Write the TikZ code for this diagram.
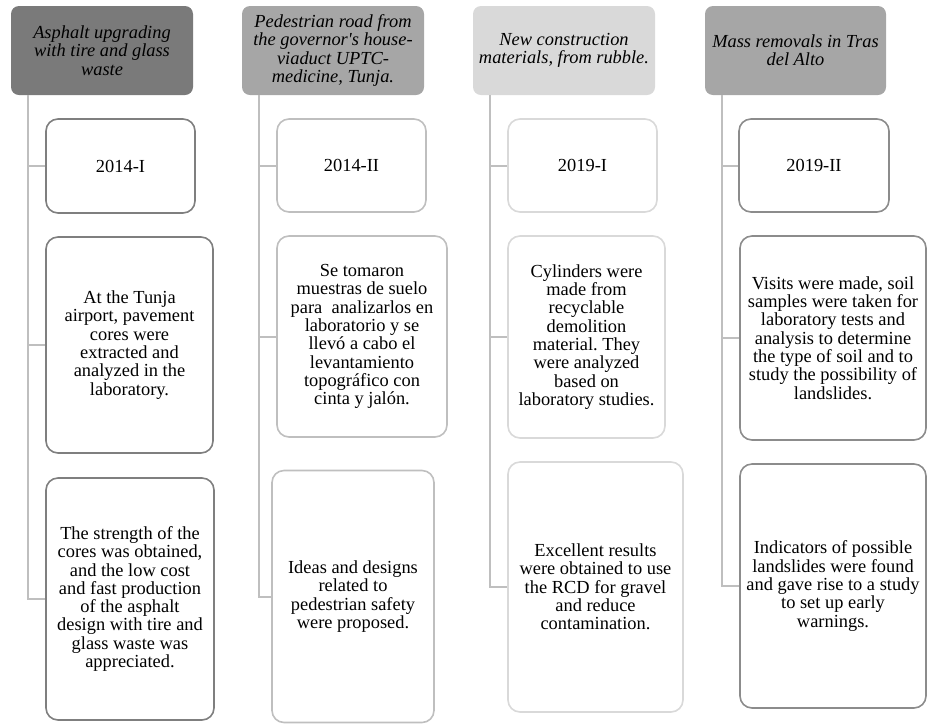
\documentclass[tikz,border=0pt]{standalone}
\usepackage{fontspec}
\setmainfont{Liberation Serif}
\frenchspacing
\definecolor{hdrA}{HTML}{7A7A7A}
\definecolor{hdrB}{HTML}{A6A6A6}
\definecolor{hdrC}{HTML}{D9D9D9}
\definecolor{hdrD}{HTML}{A6A6A6}
\definecolor{rimA}{HTML}{7F7F7F}
\definecolor{rimB}{HTML}{BFBFBF}
\definecolor{rimC}{HTML}{D9D9D9}
\definecolor{rimD}{HTML}{8C8C8C}
\definecolor{linkgray}{HTML}{BFBFBF}

\begin{document}
\begin{tikzpicture}[x=1pt,y=-1pt,
  hdr/.style={rounded corners=8pt, inner sep=0pt, align=center,
    minimum width=182pt, minimum height=89pt,
    font=\fontsize{18.4}{18.3}\selectfont\itshape},
  card/.style={draw=#1, line width=1.6pt, rounded corners=12pt, fill=white,
    inner sep=0pt, align=center, font=\fontsize{18.4}{18.3}\selectfont},
  link/.style={draw=linkgray, line width=2pt}]
\useasboundingbox (0,0) rectangle (928,724);

\node[hdr, fill=hdrA] (h1) at (102,50.5) {Asphalt upgrading\\with tire and glass\\waste};
\node[hdr, fill=hdrB] (h2) at (333,50.5) {Pedestrian road from\\the governor\textquotesingle s house-\\viaduct UPTC-\\medicine, Tunja.};
\node[hdr, fill=hdrC] (h3) at (564,50.5) {New construction\\materials, from rubble.};
\node[hdr, fill=hdrD, minimum width=181pt] (h4) at (795.5,50.5) {Mass removals in Tras\\del Alto};

\node[card=rimA, minimum width=149pt, minimum height=94pt] (y1) at (120.5,166) {2014-I};
\node[card=rimA, minimum width=167pt, minimum height=216pt] (b1) at (129.5,345) {At the Tunja\\airport, pavement\\cores were\\extracted and\\analyzed in the\\laboratory.};
\node[card=rimA, minimum width=168pt, minimum height=242pt] (c1) at (130,599) {The strength of the\\cores was obtained,\\and the low cost\\and fast production\\of the asphalt\\design with tire and\\glass waste was\\appreciated.};

\node[card=rimB, minimum width=149pt, minimum height=93pt] (y2) at (351.5,165.5) {2014-II};
\node[card=rimB, minimum width=170pt, minimum height=201pt] (b2) at (362,336.5) {Se tomaron\\muestras de suelo\\para\ \ analizarlos en\\laboratorio y se\\llevó a cabo el\\levantamiento\\topográfico con\\cinta y jalón.};
\node[card=rimB, minimum width=162pt, minimum height=252pt] (c2) at (353,596.5) {Ideas and designs\\related to\\pedestrian safety\\were proposed.};

\node[card=rimC, minimum width=149pt, minimum height=93pt] (y3) at (582.5,165.5) {2019-I};
\node[card=rimC, minimum width=157pt, minimum height=202pt] (b3) at (586.5,337) {Cylinders were\\made from\\recyclable\\demolition\\material. They\\were analyzed\\based on\\laboratory studies.};
\node[card=rimC, minimum width=175pt, minimum height=250pt] (c3) at (595.5,587) {Excellent results\\were obtained to use\\the RCD for gravel\\and reduce\\contamination.};

\node[card=rimD, minimum width=150pt, minimum height=93pt] (y4) at (814,165.5) {2019-II};
\node[card=rimD, minimum width=186pt, minimum height=204pt] (b4) at (833,338) {Visits were made, soil\\samples were taken for\\laboratory tests and\\analysis to determine\\the type of soil and to\\study the possibility of\\landslides.};
\node[card=rimD, minimum width=186pt, minimum height=244pt] (c4) at (833,586) {Indicators of possible\\landslides were found\\and gave rise to a study\\to set up early\\warnings.};

\draw[link] ([xshift=17pt]h1.south west) |- (y1.west);
\draw[link] ([xshift=17pt]h1.south west) |- (b1.west);
\draw[link] ([xshift=17pt]h1.south west) |- (c1.west);
\draw[link] ([xshift=17pt]h2.south west) |- (y2.west);
\draw[link] ([xshift=17pt]h2.south west) |- (b2.west);
\draw[link] ([xshift=17pt]h2.south west) |- (c2.west);
\draw[link] ([xshift=17pt]h3.south west) |- (y3.west);
\draw[link] ([xshift=17pt]h3.south west) |- (b3.west);
\draw[link] ([xshift=17pt]h3.south west) |- (c3.west);
\draw[link] ([xshift=17pt]h4.south west) |- (y4.west);
\draw[link] ([xshift=17pt]h4.south west) |- (b4.west);
\draw[link] ([xshift=17pt]h4.south west) |- (c4.west);
\end{tikzpicture}
\end{document}
